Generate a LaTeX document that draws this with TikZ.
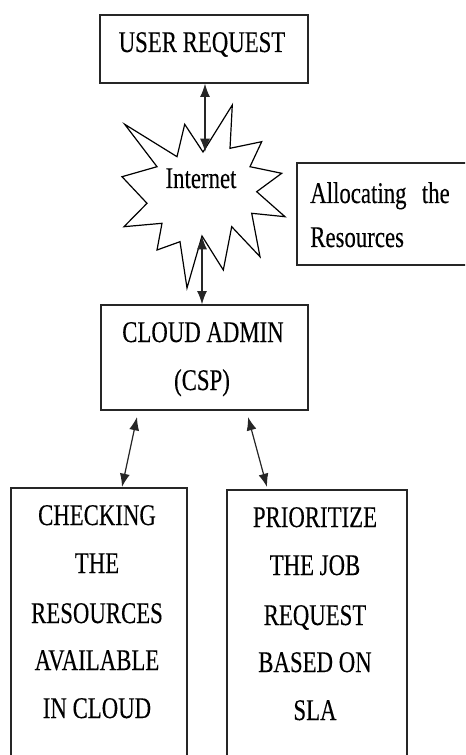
\documentclass[tikz,border=0pt]{standalone}
\usepackage{fontspec}
\setmainfont[FakeStretch=0.76,FakeBold=0.2]{Liberation Serif}
\usetikzlibrary{arrows.meta}
\begin{document}
\begin{tikzpicture}[x=0.75pt,y=-0.75pt,
  box/.style={draw=black!85,line width=1pt,rectangle,inner sep=0pt},
  lbl/.style={anchor=base,inner sep=0pt,font=\fontsize{22.5}{27}\selectfont},
  dbl/.style={{Latex[length=10pt,width=7.5pt]}-{Latex[length=10pt,width=7.5pt]},line width=0.9pt,draw=black!85,fill=black!85}]
\clip (0,0) rectangle (465,755);
\fill[white] (0,0) rectangle (465,755);
% boxes
\node[box,minimum width=156pt,minimum height=51pt] (ur) at (204,49) {};
\node[box,minimum width=155.25pt,minimum height=78.75pt] (ca) at (204.5,357.5) {};
\node[box,minimum width=137.25pt,minimum height=76.5pt] (al) at (388.5,214) {};
\node[box,minimum width=132pt,minimum height=219pt] (lb) at (99,634) {};
\node[box,minimum width=135pt,minimum height=217.5pt] (rb) at (317,635) {};
% star
\draw[line width=0.9pt,fill=white] (124.7,124.3) -- (177,156.7) -- (184.7,124.3) -- (203,152) -- (232.3,105) -- (230,148.3) -- (261.7,141.7) -- (250,166.7) -- (281.7,173.3) -- (256.7,191.7) -- (285,216.7) -- (251.7,213.3) -- (260,256.7) -- (231.7,226.7) -- (223.3,270) -- (202,236) -- (187,288) -- (180,241.7) -- (157,250) -- (162,223.3) -- (124,226.7) -- (147,203.3) -- (122,176.7) -- (157,166.7) -- cycle;
\coordinate (s1) at (205,152);
\coordinate (s2) at (202,236);
\coordinate (ca1) at (137,417);
\coordinate (ca2) at (248,417);
\coordinate (lb1) at (122,487);
\coordinate (rb1) at (267,487);
% texts
\node[lbl] (t1) at (202,52) {USER REQUEST};
\node[lbl] (t2) at (201,188) {Internet};
\node[lbl,anchor=base west] (t3) at (310,203) {Allocating};
\node[lbl,anchor=base east] (t4) at (450,203) {the};
\node[lbl,anchor=base west] (t5) at (310,247) {Resources};
\node[lbl] (t6) at (203,342) {CLOUD ADMIN};
\node[lbl] (t7) at (202,390) {(CSP)};
\node[lbl] (l1) at (97,525) {CHECKING};
\node[lbl] (l2) at (97,573) {THE};
\node[lbl] (l3) at (97,623) {RESOURCES};
\node[lbl] (l4) at (97,670) {AVAILABLE};
\node[lbl] (l5) at (97,718) {IN CLOUD};
\node[lbl] (r1) at (315,527) {PRIORITIZE};
\node[lbl] (r2) at (315,575) {THE JOB};
\node[lbl] (r3) at (315,625) {REQUEST};
\node[lbl] (r4) at (315,672) {BASED ON};
\node[lbl] (r5) at (315,720) {SLA};
% connectors
\draw[dbl] (ur.south -| s1) -- (s1);
\draw[dbl] (s2) -- (ca.north -| s2);
\draw[dbl] (ca1) -- (lb1);
\draw[dbl] (ca2) -- (rb1);
\end{tikzpicture}
\end{document}
